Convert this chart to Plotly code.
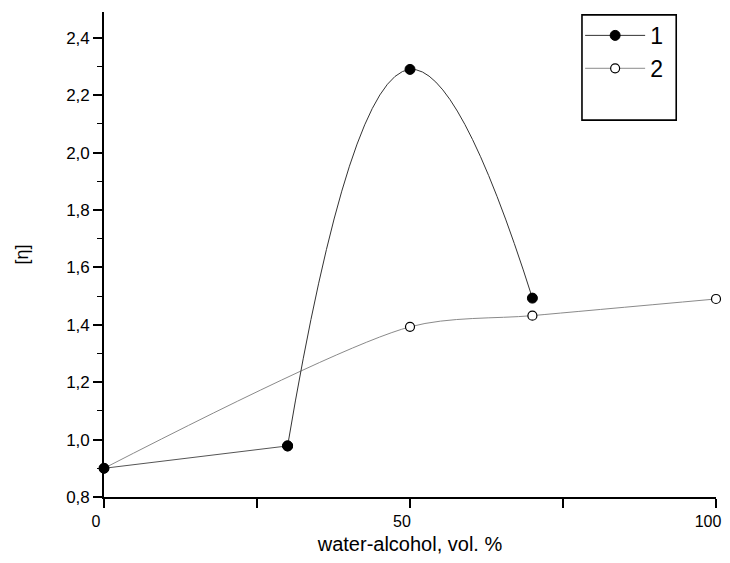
import plotly.graph_objects as go

# Data
x1 = [0, 30, 50, 70]
y1 = [0.90, 0.978, 2.29, 1.493]
x2 = [0, 50, 70, 100]
y2 = [0.90, 1.393, 1.432, 1.49]
names = ["1", "2"]
x_ticks = [0, 50, 100]
x_minor = [25, 75]
y_ticks = [0.8, 1.0, 1.2, 1.4, 1.6, 1.8, 2.0, 2.2, 2.4]

font = "Liberation Sans, Arial, sans-serif"

fig = go.Figure()
# series 2 (drawn first so the filled dot of series 1 sits on top at x=0)
fig.add_trace(go.Scatter(
    x=x2, y=y2, name=names[1], mode="lines+markers", legendrank=2,
    line=dict(shape="spline", smoothing=0.8, color="#8a8a8a", width=1),
    marker=dict(symbol="circle", size=9, color="white", line=dict(color="black", width=1.2)),
    cliponaxis=False,
))
# series 1: straight first segment, smooth remainder
fig.add_trace(go.Scatter(
    x=x1[:2], y=y1[:2], name=names[0], mode="lines+markers", showlegend=False,
    line=dict(shape="linear", color="#555555", width=1),
    marker=dict(symbol="circle", size=10, color="black", line=dict(color="black", width=1)),
    cliponaxis=False,
))
fig.add_trace(go.Scatter(
    x=x1[1:], y=y1[1:], name=names[0], mode="lines+markers", legendrank=1,
    line=dict(shape="spline", smoothing=1.3, color="#333333", width=1),
    marker=dict(symbol="circle", size=10, color="black", line=dict(color="black", width=1)),
    cliponaxis=False,
))

# page has an 8px body margin on every side, so the figure is smaller
# than the window and placed 8px in from the top-left corner
fig.update_layout(
    width=722, height=547,
    margin=dict(l=96, r=14, t=4, b=58, autoexpand=False),
    paper_bgcolor="white", plot_bgcolor="white",
    separators=",.",
    font=dict(family=font, color="black"),
    showlegend=True,
    legend=dict(
        x=0.778, y=0.996, xanchor="left", yanchor="top",
        bgcolor="rgba(0,0,0,0)", borderwidth=0,
        font=dict(size=23, family=font, color="black"),
        itemwidth=60,
    ),
    shapes=[dict(type="rect", xref="paper", yref="paper",
                 x0=0.781, x1=0.935, y0=0.777, y1=0.994,
                 line=dict(color="black", width=1.6), fillcolor="rgba(0,0,0,0)")],
)

fig.update_xaxes(
    range=[0, 100], tickvals=x_ticks, ticktext=[str(v) for v in x_ticks],
    showline=True, linecolor="black", linewidth=1.6, mirror=False,
    ticks="outside", ticklen=9, tickwidth=1.5, tickcolor="black",
    minor=dict(tickvals=x_minor, ticks="outside", ticklen=9, tickwidth=1.5, tickcolor="black"),
    showgrid=False, zeroline=False, automargin=False, ticklabeloverflow="allow",
    ticklabelshift=-8,
    tickfont=dict(size=16, family=font),
    title=dict(text="water-alcohol, vol. %", font=dict(size=20, family=font), standoff=21),
)
fig.update_yaxes(
    range=[0.8, 2.49], tickvals=y_ticks, tickformat=".1f",
    showline=True, linecolor="black", linewidth=1.6, mirror=False,
    ticks="outside", ticklen=9, tickwidth=1.5, tickcolor="black",
    minor=dict(dtick=0.1, tick0=0.9, ticks="outside", ticklen=5, tickwidth=1.2, tickcolor="black"),
    showgrid=False, zeroline=False, automargin=False,
    tickfont=dict(size=17, family=font),
    title=dict(text="[η]", font=dict(size=18, family=font), standoff=33),
)

fig.write_html("out.html")
